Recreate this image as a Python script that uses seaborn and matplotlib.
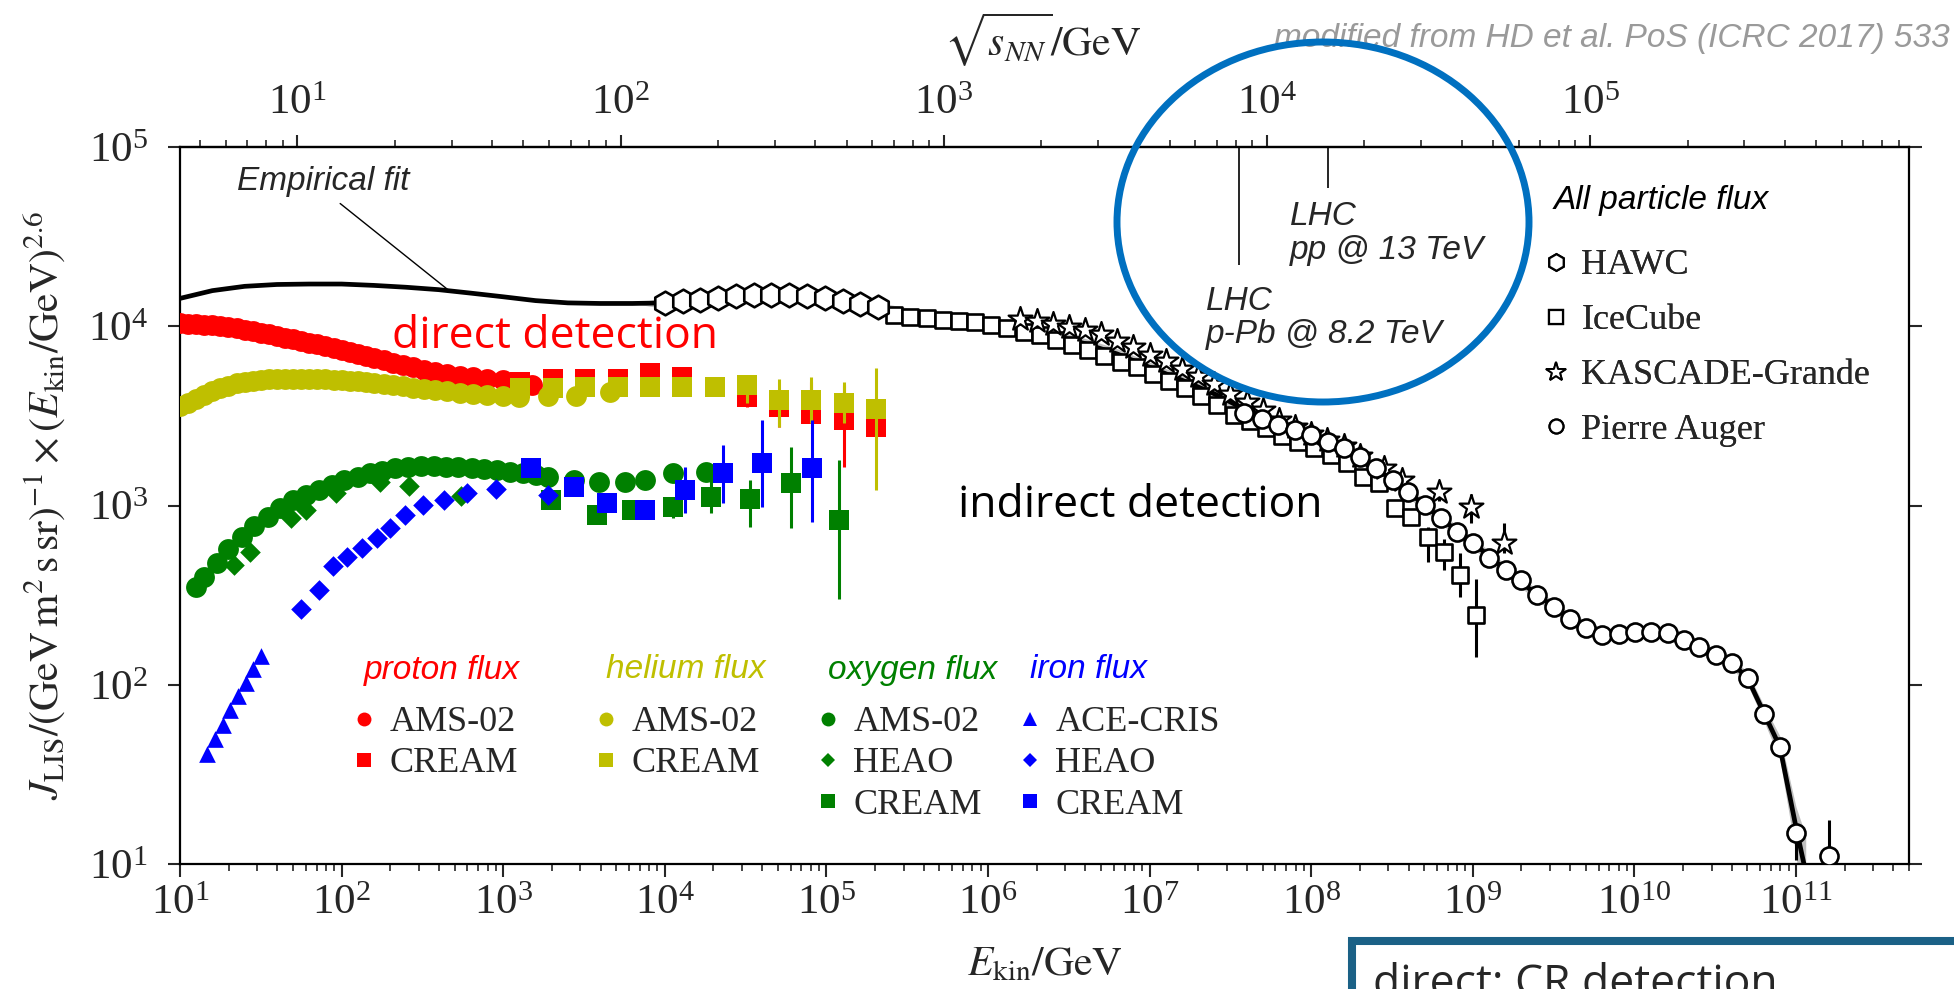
import numpy as np
import matplotlib
matplotlib.use("Agg")
import matplotlib.pyplot as plt
import seaborn as sns
from matplotlib.lines import Line2D
from matplotlib.patches import Ellipse, Rectangle
from matplotlib.ticker import NullLocator, FixedLocator

nan = np.nan

# ---------------- data (log10 of E_kin/GeV, flux x E^2.6) ----------------
fit_lgE = [1.0, 1.2, 1.4, 1.6, 1.8, 2.0, 2.2, 2.4, 2.6, 2.8, 3.0, 3.2, 3.4, 3.6, 3.8,
           4.0, 4.2, 4.4, 4.6, 4.8, 5.0, 5.2, 5.4, 5.6, 5.8, 6.0, 6.2, 6.4, 6.6, 6.8,
           7.0, 7.2, 7.4, 7.6, 7.8, 8.0, 8.2, 8.4, 8.6, 8.8, 9.0, 9.2, 9.4, 9.6, 9.8,
           10.0, 10.2, 10.4, 10.5, 10.6, 10.7, 10.8, 10.9, 11.0, 11.06]
fit_J = [14300, 15800, 16700, 17100, 17200, 17200, 16900, 16500, 16000, 15300, 14600, 13900, 13500, 13400, 13400,
         13500, 14000, 14500, 14900, 14800, 14300, 13400, 12300, 11400, 10800, 10300, 9700, 8900, 8000, 7000,
         5900, 5000, 4200, 3400, 2900, 2450, 2080, 1620, 1190, 850, 620, 440, 316, 236, 192,
         196, 194, 163, 148, 133, 109, 70, 45, 16, 9]
fit_band = [0.0] * 15 + [0.07] * 35 + [0.08, 0.10, 0.15, 0.30, 0.60]

proton_ams_lgE = [1.00, 1.05, 1.10, 1.15, 1.20, 1.25, 1.30, 1.35, 1.40, 1.45, 1.50, 1.55, 1.60, 1.65, 1.70,
                  1.75, 1.80, 1.85, 1.90, 1.95, 2.00, 2.05, 2.10, 2.15, 2.20, 2.26, 2.32, 2.38, 2.44, 2.51,
                  2.58, 2.65, 2.73, 2.81, 2.90, 3.00, 3.10, 3.18]
proton_ams_J = [10400, 10350, 10300, 10200, 10150, 10050, 9900, 9750, 9550, 9400, 9200, 9050, 8850, 8650, 8450,
                8250, 8100, 7950, 7800, 7600, 7400, 7200, 7000, 6800, 6650, 6450, 6250, 6050, 5900, 5700,
                5550, 5450, 5300, 5200, 5100, 5000, 4800, 4700]

helium_ams_lgE = [1.00, 1.05, 1.10, 1.15, 1.20, 1.25, 1.30, 1.35, 1.40, 1.45, 1.50, 1.55, 1.60, 1.65, 1.70,
                  1.75, 1.80, 1.85, 1.90, 1.95, 2.00, 2.05, 2.10, 2.15, 2.20, 2.26, 2.32, 2.38, 2.44, 2.51,
                  2.58, 2.65, 2.73, 2.81, 2.90, 3.00, 3.10, 3.28, 3.45, 3.66]
helium_ams_J = [3570, 3750, 3950, 4150, 4350, 4500, 4650, 4800, 4900, 4980, 5040, 5080, 5100, 5110, 5110,
                5100, 5090, 5070, 5050, 5030, 5010, 4980, 4950, 4900, 4850, 4780, 4700, 4620, 4550, 4480,
                4400, 4330, 4250, 4200, 4130, 4080, 4030, 4090, 4090, 4270]

cream_lgE = [3.105, 3.310, 3.509, 3.711, 3.910, 4.108, 4.311, 4.509, 4.705, 4.907, 5.109, 5.305]
proton_cream_J = [4900, 5050, 5110, 5050, 5460, 5180, 4590, 4040, 3550, 3260, 2990, 2750]
proton_cream_lo = [nan] * 7 + [3550, 2750, 2900, 1645, 2500]
proton_cream_hi = [nan] * 7 + [4590, 4040, 4860, 4700, 3000]
helium_cream_J = [4500, 4500, 4590, 4590, 4590, 4590, 4590, 4690, 3870, 3870, 3720, 3440]
helium_cream_lo = [nan] * 7 + [3720, 2750, 2900, 2900, 1218]
helium_cream_hi = [nan] * 7 + [5360, 5110, 5200, 4860, 5820]

oxygen_ams_lgE = [1.10, 1.15, 1.226, 1.30, 1.384, 1.46, 1.542, 1.62, 1.70, 1.78, 1.858, 1.94, 2.015, 2.10,
                  2.173, 2.25, 2.331, 2.41, 2.489, 2.57, 2.646, 2.72, 2.804, 2.88, 2.962, 3.04, 3.12, 3.20,
                  3.278, 3.436, 3.594, 3.751, 3.877, 4.051, 4.256]
oxygen_ams_J = [352, 400, 475, 570, 669, 765, 865, 970, 1072, 1150, 1218, 1300, 1386, 1450,
                1511, 1565, 1611, 1640, 1660, 1655, 1645, 1630, 1611, 1595, 1575, 1545, 1511, 1480,
                1445, 1386, 1355, 1355, 1386, 1511, 1540]
oxygen_heao_lgE = [1.337, 1.431, 1.684, 1.779, 1.968, 2.236, 2.416, 2.741]
oxygen_heao_J = [466, 552, 847, 942, 1167, 1355, 1288, 1128]
oxygen_cream_lgE = [3.294, 3.578, 3.799, 4.052, 4.288, 4.525, 4.778, 5.078]
oxygen_cream_J = [1072, 883, 942, 984, 1117, 1094, 1327, 828]
oxygen_cream_lo = [nan, nan, nan, 855, 904, 760, 745, 300]
oxygen_cream_hi = [nan, nan, nan, 1072, 1511, 1386, 2125, 1791]

iron_ace_lgE = [1.17, 1.217, 1.264, 1.311, 1.359, 1.406, 1.453, 1.50]
iron_ace_J = [41, 50, 60, 72, 86, 102, 122, 145]
iron_heao_lgE = [1.75, 1.858, 1.946, 2.031, 2.126, 2.22, 2.299, 2.394, 2.505, 2.631, 2.773, 2.953, 3.278]
iron_heao_J = [265, 337, 459, 517, 576, 655, 745, 884, 1005, 1072, 1167, 1230, 1143]
iron_cream_lgE = [3.174, 3.436, 3.641, 3.878, 4.124, 4.358, 4.604, 4.913]
iron_cream_J = [1611, 1271, 1028, 942, 1218, 1511, 1730, 1611]
iron_cream_lo = [nan, nan, nan, 855, 904, 1028, 984, 811]
iron_cream_hi = [nan, nan, nan, 990, 1645, 2172, 2992, 2992]

hawc_lgE = [4.00, 4.11, 4.22, 4.33, 4.44, 4.55, 4.66, 4.77, 4.88, 4.99, 5.10, 5.21, 5.32]
hawc_J = [13400, 13800, 14100, 14400, 14700, 14900, 15000, 14900, 14700, 14400, 13900, 13300, 12800]

icecube_lgE = [5.42, 5.52, 5.62, 5.72, 5.82, 5.92, 6.02, 6.12, 6.22, 6.32, 6.42, 6.52, 6.62, 6.72, 6.82,
               6.92, 7.02, 7.12, 7.22, 7.32, 7.42, 7.52, 7.62, 7.72, 7.82, 7.92, 8.02, 8.12, 8.22, 8.32,
               8.42, 8.52, 8.62, 8.72, 8.82, 8.92, 9.02]
icecube_J = [11600, 11300, 11100, 10900, 10700, 10500, 10100, 9800, 9300, 8900, 8400, 7900, 7400, 6850, 6350,
             5900, 5400, 4950, 4500, 4100, 3650, 3200, 2950, 2700, 2450, 2250, 2080, 1910, 1718, 1445,
             1327, 963, 865, 670, 552, 409, 245]
icecube_lo = [nan] * 33 + [486, 435, 308, 143]
icecube_hi = [nan] * 33 + [761, 650, 546, 390]

kascade_lgE = [6.2, 6.3, 6.4, 6.5, 6.6, 6.7, 6.8, 6.9, 7.0, 7.1, 7.2, 7.3, 7.4, 7.5, 7.6, 7.7, 7.8, 7.9,
               8.0, 8.1, 8.2, 8.3, 8.45, 8.56, 8.79, 8.99, 9.19]
kascade_J = [11000, 10700, 10300, 9900, 9500, 9100, 8300, 7650, 6900, 6400, 5800, 5300, 4750, 4200, 3800,
             3400, 3000, 2750, 2520, 2330, 2150, 1900, 1610, 1390, 1190, 985, 620]
kascade_lo = [nan] * 24 + [1060, 800, 540]
kascade_hi = [nan] * 24 + [1340, 1160, 795]

auger_lgE = [7.586, 7.694, 7.795, 7.900, 8.001, 8.102, 8.203, 8.304, 8.402, 8.503, 8.598, 8.705, 8.800,
             8.901, 9.002, 9.103, 9.204, 9.299, 9.400, 9.501, 9.599, 9.700, 9.801, 9.902, 10.003, 10.104,
             10.206, 10.307, 10.401, 10.502, 10.604, 10.704, 10.799, 10.900, 11.001, 11.203]
auger_J = [3262, 3020, 2805, 2636, 2472, 2270, 2080, 1854, 1611, 1396, 1194, 1005, 847,
           714, 615, 507, 437, 384, 316, 272, 234, 207, 189, 192, 198, 198,
           194, 177, 163, 147, 132, 109, 69, 45, 14.8, 11.1]
auger_lo = [nan] * 34 + [10.5, 9.0]
auger_hi = [nan] * 34 + [16.5, 17.6]

# LHC markers (sqrt(s_NN) positions as drawn, line lower ends in flux units)
lhc_sqrts = [8.2e3, 15.4e3]
lhc_line_bottom = [21900, 58900]
m_p = 0.938

# tick values
x_ticks = [1e1, 1e2, 1e3, 1e4, 1e5, 1e6, 1e7, 1e8, 1e9, 1e10, 1e11]
top_ticks = [1e1, 1e2, 1e3, 1e4, 1e5]
y_ticks = [1e1, 1e2, 1e3, 1e4, 1e5]

RED, YEL, GRN, BLU = "#FF0000", "#BFBF00", "#008000", "#0000FF"

# ---------------- styling ----------------
sns.set_theme(style="ticks")
plt.rcParams["font.family"] = ["Liberation Serif", "DejaVu Serif"]
plt.rcParams["mathtext.fontset"] = "stix"
plt.rcParams["axes.linewidth"] = 1.6

W, H = 1954, 989
fig = plt.figure(figsize=(W / 100, H / 100), dpi=100)
fig.patch.set_facecolor("white")


def fx(px):
    return px / W


def fy(py):
    return 1 - py / H


ax = fig.add_axes([fx(180), fy(864), fx(1909) - fx(180), fy(147) - fy(864)])
ax.set_xscale("log")
ax.set_yscale("log")
ax.set_xlim(1e1, 5e11)
ax.set_ylim(1e1, 1e5)
ax.set_facecolor("white")


def E(lg):
    return 10 ** np.asarray(lg, dtype=float)


def scat(lg, J, marker, color, ms, z, ec=None, lw=0.0):
    sns.scatterplot(x=E(lg), y=np.asarray(J, float), marker=marker, s=ms ** 2, color=color,
                    edgecolor=ec if ec is not None else color, linewidth=lw, ax=ax, zorder=z, legend=False)


def bars(lg, lo, hi, color, z, lw=2.2):
    x = E(lg)
    lo = np.asarray(lo, float)
    hi = np.asarray(hi, float)
    m = ~np.isnan(lo)
    ax.vlines(x[m], lo[m], hi[m], color=color, lw=lw, zorder=z)


# empirical fit with band
fe = E(fit_lgE)
fj = np.asarray(fit_J, float)
fb = np.asarray(fit_band, float)
ax.fill_between(fe, fj * (1 - fb), fj * (1 + fb), color="0.55", alpha=0.55, lw=0, zorder=2)
sns.lineplot(x=fe, y=fj, color="black", lw=3.4, ax=ax, sort=False, estimator=None, zorder=3, legend=False)

# direct measurements
scat(proton_ams_lgE, proton_ams_J, "o", RED, 15, 4)
bars(cream_lgE, proton_cream_lo, proton_cream_hi, RED, 4)
scat(cream_lgE, proton_cream_J, "s", RED, 14, 4)
scat(helium_ams_lgE, helium_ams_J, "o", YEL, 15, 4.1)
bars(cream_lgE, helium_cream_lo, helium_cream_hi, YEL, 4.1)
scat(cream_lgE, helium_cream_J, "s", YEL, 14, 4.1)
scat(oxygen_ams_lgE, oxygen_ams_J, "o", GRN, 15, 4.2)
scat(oxygen_heao_lgE, oxygen_heao_J, "D", GRN, 10.5, 4.2)
bars(oxygen_cream_lgE, oxygen_cream_lo, oxygen_cream_hi, GRN, 4.2)
scat(oxygen_cream_lgE, oxygen_cream_J, "s", GRN, 14, 4.2)
scat(iron_ace_lgE, iron_ace_J, "^", BLU, 12, 4.3)
scat(iron_heao_lgE, iron_heao_J, "D", BLU, 10.5, 4.3)
bars(iron_cream_lgE, iron_cream_lo, iron_cream_hi, BLU, 4.3)
scat(iron_cream_lgE, iron_cream_J, "s", BLU, 14, 4.3)

# indirect (air shower) measurements
bars(icecube_lgE, icecube_lo, icecube_hi, "black", 5)
scat(icecube_lgE, icecube_J, "s", "white", 12, 5, ec="black", lw=1.9)
bars(kascade_lgE, kascade_lo, kascade_hi, "black", 5.1)
scat(kascade_lgE, kascade_J, "*", "white", 18, 5.1, ec="black", lw=1.6)
scat(hawc_lgE, hawc_J, "h", "white", 17, 5.2, ec="black", lw=1.9)
bars(auger_lgE, auger_lo, auger_hi, "black", 5.3)
scat(auger_lgE, auger_J, "o", "white", 13, 5.3, ec="black", lw=1.9)

# LHC lines
lhc_E = np.asarray(lhc_sqrts) ** 2 / (2 * m_p)
ax.vlines(lhc_E, lhc_line_bottom, 1e5, color="black", lw=1.2, zorder=3)

# ---------------- axes / ticks ----------------
ax.xaxis.set_major_locator(FixedLocator(x_ticks))
minor_x = [m * t for t in [1e1, 1e2, 1e3, 1e4, 1e5, 1e6, 1e7, 1e8, 1e9, 1e10, 1e11] for m in range(2, 10)
           if m * t <= 5e11]
ax.xaxis.set_minor_locator(FixedLocator(minor_x))
ax.yaxis.set_major_locator(FixedLocator(y_ticks))
ax.yaxis.set_minor_locator(NullLocator())
ax.tick_params(which="major", direction="out", length=9, width=1.5, labelsize=31, pad=6,
               top=False, right=True, labelright=False)
ax.tick_params(axis="y", which="major", pad=14)
ax.tick_params(which="minor", direction="out", length=5, width=1.2, top=False)
for s in ax.spines.values():
    s.set_color("black")
    s.set_linewidth(1.6)

secax = ax.secondary_xaxis("top", functions=(lambda e: np.sqrt(2 * m_p * np.clip(e, 1e-30, None)),
                                             lambda s: np.asarray(s) ** 2 / (2 * m_p)))
secax.xaxis.set_major_locator(FixedLocator(top_ticks))
minor_top = [m * t for t in [1e0, 1e1, 1e2, 1e3, 1e4, 1e5] for m in range(2, 10) if 4.4 < m * t < 9.6e5]
secax.xaxis.set_minor_locator(FixedLocator(minor_top))
secax.tick_params(which="major", direction="out", length=9, width=1.5, labelsize=31, pad=8)
secax.tick_params(which="minor", direction="out", length=5, width=1.2)

ax.set_xlabel(r"$E_{\rm kin}/{\rm GeV}$", fontsize=30)
ax.xaxis.set_label_coords(0.5, -(946 - 864) / 717)
fig.text(fx(1043), fy(40), r"$\sqrt{s_{NN}}/{\rm GeV}$", fontsize=30, ha="center", va="center")
fig.text(fx(45), fy(505), r"$J_{\rm LIS}/({\rm GeV\,m^2\,s\,sr})^{-1}\times(E_{\rm kin}/{\rm GeV})^{2.6}$",
         fontsize=30, rotation=90, ha="center", va="center")
fig.text(fx(1950), fy(38), "modified from HD et al. PoS (ICRC 2017) 533", fontsize=24, style="italic",
         family="Liberation Sans", color="#9a9a9a", ha="right", va="center")

# ---------------- annotations ----------------
sans_it = dict(family="Liberation Sans", style="italic", fontsize=24)
ax.annotate("Empirical fit", xy=(475, 15500), xytext=(22.5, 64400), ha="left", va="center",
            arrowprops=dict(arrowstyle="-", color="black", lw=1.0, relpos=(0.55, 0.0), shrinkA=4, shrinkB=0),
            zorder=6, **sans_it)
ax.text(7.4e7, 33000, "LHC\npp @ 13 TeV", ha="left", va="center", linespacing=1.15, zorder=6, **sans_it)
ax.text(2.23e7, 11100, "LHC\np-Pb @ 8.2 TeV", ha="left", va="center", linespacing=1.1, zorder=6, **sans_it)
ax.text(205, 7550, "direct detection", color=RED, fontsize=32, family="Open Sans", ha="left",
        va="baseline", zorder=6)
ax.text(1.18e8, 861, "indirect detection", color="black", fontsize=32, family="Open Sans", ha="right",
        va="baseline", zorder=6)

# ---------------- legends ----------------
LEG_FS = 26


def handle(marker, color, ms, ec=None, mew=0.0):
    return Line2D([], [], ls="none", marker=marker, markersize=ms, markerfacecolor=color,
                  markeredgecolor=ec if ec is not None else color, markeredgewidth=mew)


def legend(handles, labels, x_marker, y_top, spacing):
    hl = 0.6
    x0 = x_marker - hl * LEG_FS * 100 / 72 / 2
    leg = ax.legend(handles, labels, loc="upper left", bbox_to_anchor=(fx(x0), fy(y_top)),
                    bbox_transform=fig.transFigure, frameon=False, borderpad=0, borderaxespad=0,
                    handlelength=hl, handletextpad=0.4, labelspacing=spacing,
                    prop=dict(family="Liberation Serif", size=LEG_FS))
    ax.add_artist(leg)
    leg.set_zorder(7)
    return leg


groups = [
    ("proton flux", RED, 364, [("o", "AMS-02"), ("s", "CREAM")]),
    ("helium flux", YEL, 606, [("o", "AMS-02"), ("s", "CREAM")]),
    ("oxygen flux", GRN, 828, [("o", "AMS-02"), ("D", "HEAO"), ("s", "CREAM")]),
    ("iron flux", BLU, 1030, [("^", "ACE-CRIS"), ("D", "HEAO"), ("s", "CREAM")]),
]
for title, col, xm, items in groups:
    fig.text(fx(xm), fy(670), title, color=col, ha="left", va="center", **sans_it)
    hs = [handle(mk, col, 10 if mk in ("o", "s") else (7.5 if mk == "D" else 10)) for mk, _ in items]
    legend(hs, [lab for _, lab in items], xm, 706, 0.22)

fig.text(fx(1554), fy(200), "All particle flux", color="black", ha="left", va="center", **sans_it)
hs = [handle("h", "white", 12, "black", 1.6), handle("s", "white", 10, "black", 1.6),
      handle("*", "white", 15, "black", 1.4), handle("o", "white", 10, "black", 1.6)]
legend(hs, ["HAWC", "IceCube", "KASCADE-Grande", "Pierre Auger"], 1556, 249, 0.6)

# ---------------- overlays ----------------
fig.add_artist(Ellipse((fx(1323), fy(222)), width=412 / W, height=360 / H, transform=fig.transFigure,
                       fill=False, edgecolor="#0070C0", lw=5.0, zorder=10))
fig.add_artist(Rectangle((fx(1352), fy(1120)), width=(2200 - 1352) / W, height=(1120 - 941) / H,
                         transform=fig.transFigure, facecolor="white", edgecolor="#1B6186", lw=5.8,
                         zorder=10, clip_on=False))
fig.text(fx(1373), fy(962), "direct: CR detection", fontsize=32, family="Open Sans", ha="left", va="top",
         zorder=11)

fig.savefig("out.png", dpi=100)
